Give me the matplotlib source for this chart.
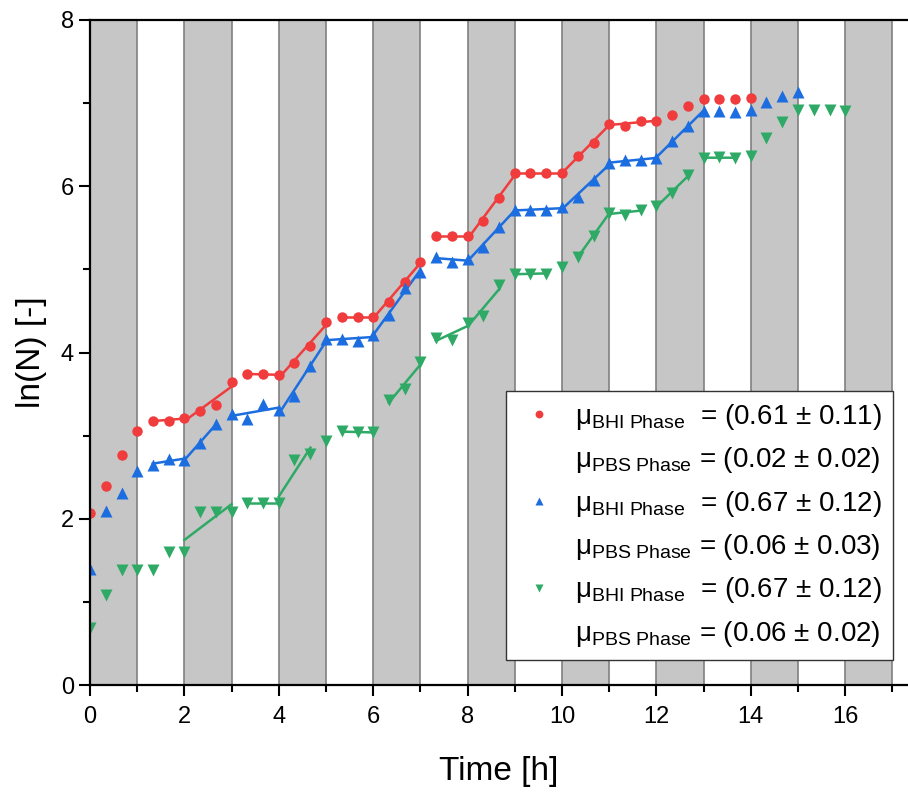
import numpy as np
import matplotlib
matplotlib.use('Agg')
import matplotlib.pyplot as plt
from matplotlib.lines import Line2D

plt.rcParams['font.family'] = ['Liberation Sans', 'DejaVu Sans']
plt.rcParams['mathtext.fontset'] = 'custom'
plt.rcParams['mathtext.rm'] = 'Liberation Sans'
plt.rcParams['mathtext.it'] = 'Liberation Sans:italic'

#Sampling times (every 20 min)
time_h = [0, 0.33, 0.67, 1, 1.33, 1.67, 2, 2.33, 2.67, 3, 3.33, 3.67, 4, 4.33, 4.67,
          5, 5.33, 5.67, 6, 6.33, 6.67, 7, 7.33, 7.67, 8, 8.33, 8.67, 9, 9.33, 9.67,
          10, 10.33, 10.67, 11, 11.33, 11.67, 12, 12.33, 12.67, 13, 13.33, 13.67, 14,
          14.33, 14.67, 15, 15.33, 15.67, 16]

#ln(N) values
lnN_red = [2.07, 2.40, 2.77, 3.05, 3.18, 3.18, 3.21, 3.30, 3.37, 3.65, 3.74, 3.74, 3.73,
           3.87, 4.08, 4.37, 4.43, 4.43, 4.43, 4.61, 4.85, 5.09, 5.40, 5.40, 5.40, 5.58,
           5.86, 6.16, 6.16, 6.16, 6.16, 6.36, 6.52, 6.75, 6.73, 6.78, 6.79, 6.86, 6.97,
           7.05, 7.05, 7.05, 7.06]
lnN_blue = [1.39, 2.09, 2.31, 2.58, 2.65, 2.72, 2.71, 2.91, 3.14, 3.26, 3.20, 3.38, 3.31,
            3.48, 3.84, 4.16, 4.16, 4.14, 4.21, 4.45, 4.78, 4.97, 5.15, 5.09, 5.12, 5.27,
            5.51, 5.72, 5.71, 5.71, 5.75, 5.87, 6.07, 6.28, 6.31, 6.32, 6.34, 6.55, 6.72,
            6.91, 6.91, 6.89, 6.92, 7.01, 7.08, 7.13]
lnN_green = [0.68, 1.08, 1.38, 1.38, 1.38, 1.60, 1.60, 2.08, 2.08, 2.08, 2.19, 2.19, 2.19,
             2.71, 2.78, 2.94, 3.05, 3.04, 3.04, 3.43, 3.56, 3.89, 4.18, 4.15, 4.36, 4.44,
             4.81, 4.94, 4.95, 4.95, 5.03, 5.15, 5.40, 5.68, 5.66, 5.72, 5.76, 5.92, 6.13,
             6.34, 6.35, 6.34, 6.36, 6.58, 6.77, 6.92, 6.92, 6.92, 6.90]

#Time windows used for the linear fits of each phase
fits_red = [(1.33, 2), (2, 3), (3.33, 4), (4, 5), (5.33, 6), (6, 7), (7.33, 8), (8, 9),
            (9, 10), (10, 11), (11, 12)]
fits_blue = [(1.33, 2), (2, 2.67), (3, 4), (4, 5), (5, 6), (6, 7), (7.33, 8), (8, 9),
             (9, 10), (10, 11), (11, 12), (12, 13)]
fits_green = [(2, 3), (3.33, 4), (4, 4.67), (5.33, 6), (6.33, 7), (7.33, 8), (8, 8.67),
              (9, 9.67), (10.33, 11), (11, 11.67), (12, 12.67), (13, 13.67)]

labels = [r'$\mathregular{\mu_{BHI\ Phase}}$  = (0.61 $\mathregular{\pm}$ 0.11)',
          r'$\mathregular{\mu_{PBS\ Phase}}$ = (0.02 $\mathregular{\pm}$ 0.02)',
          r'$\mathregular{\mu_{BHI\ Phase}}$  = (0.67 $\mathregular{\pm}$ 0.12)',
          r'$\mathregular{\mu_{PBS\ Phase}}$ = (0.06 $\mathregular{\pm}$ 0.03)',
          r'$\mathregular{\mu_{BHI\ Phase}}$  = (0.67 $\mathregular{\pm}$ 0.12)',
          r'$\mathregular{\mu_{PBS\ Phase}}$ = (0.06 $\mathregular{\pm}$ 0.02)']

red = '#f03c3c'
blue = '#1c6ee0'
green = '#2eaa66'
band_color = '#c6c6c6'

fig = plt.figure(figsize=(9.08, 7.96), dpi=100)
ax = fig.add_axes([90/908, 1-685/796, 1-90/908, 665/796])

#BHI phases shaded, phase boundaries as grey lines
for i in range(0, 18, 2):
    ax.axvspan(i, i+1, facecolor=band_color, edgecolor='none', zorder=0)
for b in range(1, 18):
    ax.axvline(b, color='#808080', lw=1.2, zorder=0.5)

def plot_series(t, v, fits, color, marker, ms):
    t = np.array(t[:len(v)])
    v = np.array(v)
    for a, b in fits:
        m = (t >= a-0.01) & (t <= b+0.01)
        p = np.polyfit(t[m], v[m], 1)
        xs = np.array([t[m][0], t[m][-1]])
        ax.plot(xs, np.polyval(p, xs), color=color, lw=1.8, zorder=2)
    ax.plot(t, v, ls='none', marker=marker, color=color, ms=ms, mec='none', zorder=3)

plot_series(time_h, lnN_red, fits_red, red, 'o', 7.5)
plot_series(time_h, lnN_blue, fits_blue, blue, '^', 8)
plot_series(time_h, lnN_green, fits_green, green, 'v', 8)

ax.set_xlim(0, 17.33)
ax.set_ylim(0, 8)
ax.set_xticks(range(0, 17, 2))
ax.set_xticks(range(1, 18, 2), minor=True)
ax.set_yticks(range(0, 9, 2))
ax.set_yticks(range(1, 8, 2), minor=True)
ax.tick_params(which='both', direction='out', width=1.5, labelsize=17, color='black')
ax.tick_params(which='major', length=8)
ax.tick_params(which='minor', length=5)
ax.tick_params(axis='x', pad=7)
ax.spines['right'].set_visible(False)
for s in ['left', 'bottom', 'top']:
    ax.spines[s].set_linewidth(1.6)
    ax.spines[s].set_zorder(4)
ax.set_xlabel('Time [h]', fontsize=24, labelpad=20)
ax.set_ylabel('ln(N) [-]', fontsize=24, labelpad=10)

blank = Line2D([], [], ls='none', marker=None)
handles = [Line2D([], [], ls='none', marker='o', color=red, mec='none', ms=7.5), blank,
           Line2D([], [], ls='none', marker='^', color=blue, mec='none', ms=8), blank,
           Line2D([], [], ls='none', marker='v', color=green, mec='none', ms=8), blank]
leg = ax.legend(handles, labels, loc='lower right', bbox_to_anchor=(0.982, 0.038),
                borderaxespad=0, fontsize=20, markerscale=0.75, handlelength=1.6,
                handletextpad=0.5, labelspacing=0.48, fancybox=False, framealpha=1,
                edgecolor='#333333', borderpad=0.4)
leg.get_frame().set_linewidth(1.0)
leg.set_zorder(5)

fig.savefig('out.png', dpi=100)
